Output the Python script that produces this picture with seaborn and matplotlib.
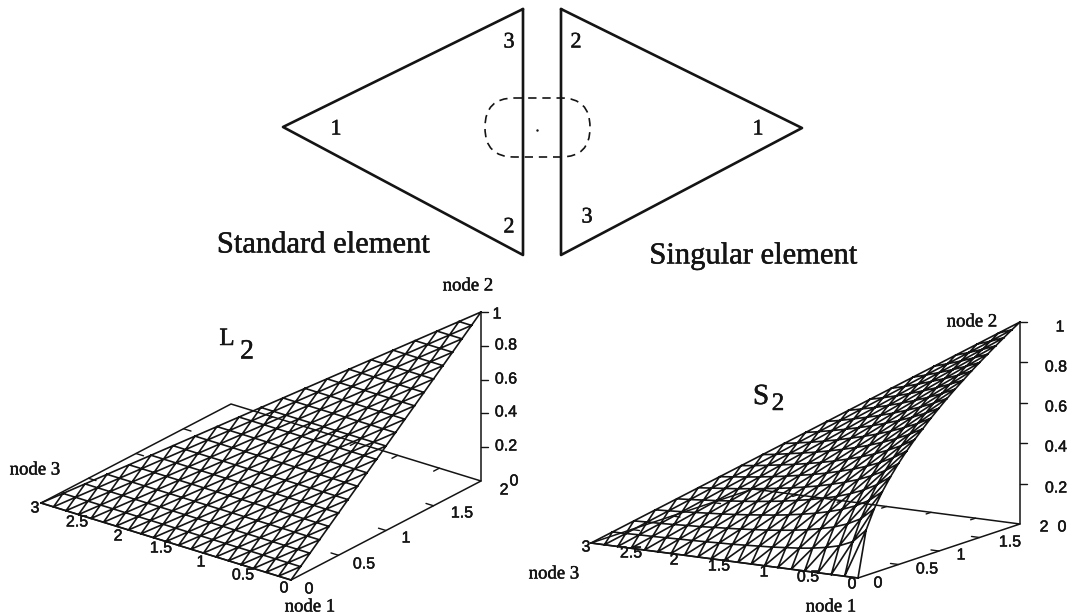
import matplotlib
matplotlib.use("Agg")
import matplotlib.pyplot as plt
import matplotlib.patheffects as pe
import matplotlib.tri as mtri
from matplotlib.patches import FancyBboxPatch
import seaborn as sns
import numpy as np

# top diagrams
standard_x = [523, 283, 523, 523]
standard_y = [9, 127, 255, 9]
singular_x = [561, 802, 561, 561]
singular_y = [9, 128, 255, 9]

# mesh nodes of the two surfaces (20 divisions per side)
x_nodes = [0, .15, .3, .45, .6, .75, .9, 1.05, 1.2, 1.35, 1.5, 1.65, 1.8, 1.95, 2.1, 2.25, 2.4, 2.55, 2.7, 2.85, 3.0]
y_nodes = [0, .1, .2, .3, .4, .5, .6, .7, .8, .9, 1.0, 1.1, 1.2, 1.3, 1.4, 1.5, 1.6, 1.7, 1.8, 1.9, 2.0]
l2_levels = [0, .05, .1, .15, .2, .25, .3, .35, .4, .45, .5, .55, .6, .65, .7, .75, .8, .85, .9, .95, 1.0]

# S2 heights, one row per y node, from the edge x=0 out to the sloped edge
s2_rows = [
    [0] * 21,
    [.224, .158, .129, .112, .100, .091, .085, .079, .075, .071, .067, .065, .062, .060, .058, .056, .054, .053, .051, .050],
    [.316, .258, .224, .200, .183, .169, .158, .149, .141, .135, .129, .124, .120, .115, .112, .108, .105, .103, .100],
    [.387, .335, .300, .274, .254, .237, .224, .212, .202, .194, .186, .179, .173, .168, .163, .158, .154, .150],
    [.447, .400, .365, .338, .316, .298, .283, .270, .258, .248, .239, .231, .224, .217, .211, .205, .200],
    [.500, .456, .423, .395, .373, .354, .337, .323, .310, .299, .289, .280, .271, .264, .257, .250],
    [.548, .507, .474, .447, .424, .405, .387, .372, .359, .346, .335, .325, .316, .308, .300],
    [.592, .553, .522, .495, .472, .452, .434, .418, .404, .391, .380, .369, .359, .350],
    [.632, .596, .566, .539, .516, .496, .478, .462, .447, .434, .422, .410, .400],
    [.671, .636, .607, .581, .558, .538, .520, .503, .488, .474, .462, .450],
    [.707, .674, .645, .620, .598, .577, .559, .542, .527, .513, .500],
    [.742, .710, .682, .658, .635, .615, .597, .580, .564, .550],
    [.775, .744, .717, .693, .671, .651, .632, .616, .600],
    [.806, .777, .751, .727, .705, .685, .667, .650],
    [.837, .808, .783, .760, .738, .718, .700],
    [.866, .839, .814, .791, .770, .750],
    [.894, .868, .843, .821, .800],
    [.922, .896, .872, .850],
    [.949, .923, .900],
    [.975, .950],
    [1.0],
]

x_ticks = [0.5, 1, 1.5, 2, 2.5]
y_ticks = [0.5, 1, 1.5]
z_ticks = [0.2, 0.4, 0.6, 0.8, 1]

INK = "#141414"
SERIF = "Liberation Serif"
SANS = "Liberation Sans"

sns.set_theme(style="white")
plt.rcParams["font.family"] = SERIF

fig = plt.figure(figsize=(10.75, 6.16), dpi=100)
ax = fig.add_axes([0, 0, 1, 1])
ax.set_xlim(0, 1075)
ax.set_ylim(616, 0)
ax.axis("off")


def line(xs, ys, lw=1.0):
    sns.lineplot(x=xs, y=ys, sort=False, estimator=None, color=INK, lw=lw, ax=ax, legend=False)


def label(x, y, s, size=11.5, family=SANS):
    t = ax.text(x, y, s, fontsize=size, family=family, ha="center", va="center", color=INK)
    # the scan prints a little heavier than the plain font
    t.set_path_effects([pe.withStroke(linewidth=0.35, foreground=INK)])


def surface(origin, vx, vy, vz, rows):
    origin, vx, vy, vz = map(np.array, (origin, vx, vy, vz))

    def proj(x, y, z):
        p = origin + np.outer(np.asarray(x, float) / 3, vx) + np.outer(np.asarray(y, float) / 2, vy) \
            + np.outer(np.asarray(z, float), vz)
        return p[:, 0], p[:, 1]

    # box floor and height axis
    px, py = proj([0, 0, 3, 3, 0], [0, 2, 2, 0, 0], [0, 0, 0, 0, 0])
    line(px, py, 1.1)
    px, py = proj([0, 0], [2, 2], [0, 1])
    line(px, py, 1.1)

    # floor ticks
    for t in y_ticks:
        px, py = proj([0, 0.09], [t, t], [0, 0])
        line(px, py, 1.0)
        px, py = proj([3, 2.91], [t, t], [0, 0])
        line(px, py, 1.0)
    for t in x_ticks:
        px, py = proj([t, t], [2, 1.94], [0, 0])
        line(px, py, 1.0)
    for t in z_ticks:
        px, py = proj([0, 0], [2, 2], [t, t])
        line([px[0], px[0] + 7], py, 1.0)

    # triangular mesh
    xs, ys, zs, index = [], [], [], {}
    for j, row in enumerate(rows):
        for k, z in enumerate(row):
            index[(j, k)] = len(xs)
            xs.append(x_nodes[k])
            ys.append(y_nodes[j])
            zs.append(z)
    tris = []
    for (j, k), n in index.items():
        if (j + 1, k) in index and (j, k + 1) in index:
            tris.append([n, index[(j, k + 1)], index[(j + 1, k)]])
        if (j + 1, k + 1) in index:
            tris.append([index[(j, k + 1)], index[(j + 1, k + 1)], index[(j + 1, k)]])
    px, py = proj(xs, ys, zs)
    ax.triplot(mtri.Triangulation(px, py, tris), color=INK, lw=1.2)


# top diagrams
line(standard_x, standard_y, 1.9)
line(singular_x, singular_y, 1.9)
ax.add_patch(FancyBboxPatch((485, 98), 105, 59, boxstyle="round,pad=0,rounding_size=29",
                            fill=False, ec=INK, lw=1.2, ls=(0, (5, 3.5))))
ax.plot([537], [130], ".", ms=1.5, color=INK)
for x, y, s in [(336, 130, "1"), (509, 43, "3"), (509, 228, "2"),
                (576, 43, "2"), (758, 130, "1"), (587, 218, "3")]:
    label(x, y, s, 16, SERIF)
label(323, 245, "Standard element", 22, SERIF)
label(753, 256, "Singular element", 22, SERIF)

# left surface L2
l2_rows = [[l2_levels[j]] * (21 - j) for j in range(21)]
surface((291, 580), (-250, -77), (190, -99), (0, -169), l2_rows)
for x, y, s in [(35, 508, "3"), (77, 522, "2.5"), (118, 536, "2"), (161, 548, "1.5"),
                (201, 562, "1"), (243, 575, "0.5"), (284, 588, "0"),
                (309, 589, "0"), (364, 564, "0.5"), (406, 538, "1"), (462, 513, "1.5"),
                (497, 314, "1"), (506, 345, "0.8"), (506, 379, "0.6"), (506, 412, "0.4"),
                (506, 446, "0.2"), (504, 490, "2"), (514, 481, "0")]:
    label(x, y, s)
label(468, 286, "node 2", 13.5, SERIF)
label(35, 470, "node 3", 13.5, SERIF)
label(310, 607, "node 1", 13.5, SERIF)
label(227, 339, "L", 18, SERIF)
label(247, 352, "2", 20, SERIF)

# right surface S2
surface((858, 578), (-267, -35), (162, -54), (0, -202), s2_rows)
for x, y, s in [(586, 547, "3"), (631, 553, "2.5"), (674, 560, "2"), (719, 566, "1.5"),
                (764, 572, "1"), (808, 577, "0.5"), (852, 584, "0"),
                (878, 583, "0"), (927, 569, "0.5"), (961, 555, "1"), (1010, 542, "1.5"),
                (1060, 327, "1"), (1056, 367, "0.8"), (1056, 407, "0.6"), (1056, 447, "0.4"),
                (1056, 488, "0.2"), (1044, 527, "2"), (1062, 527, "0")]:
    label(x, y, s)
label(972, 322, "node 2", 13.5, SERIF)
label(554, 574, "node 3", 13.5, SERIF)
label(831, 607, "node 1", 13.5, SERIF)
label(761, 397, "S", 21, SERIF)
label(778, 404, "2", 18, SERIF)

fig.savefig("out.png", dpi=100)
